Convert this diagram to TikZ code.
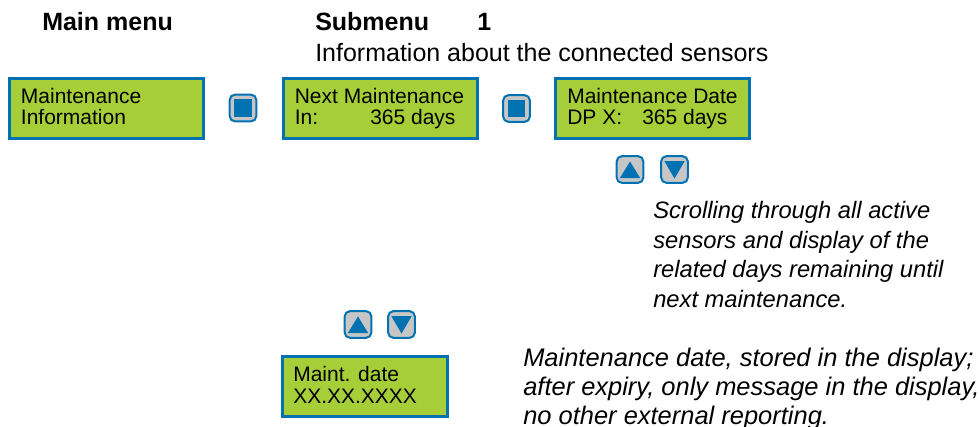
\documentclass[tikz,border=0pt]{standalone}
\usepackage{fontspec}
\setmainfont{Liberation Sans}
\definecolor{lcdblue}{RGB}{0,114,178}
\definecolor{lcdgreen}{RGB}{166,206,57}
\definecolor{keygrey}{RGB}{198,198,198}
\begin{document}
\begin{tikzpicture}[x=0.75pt,y=-0.75pt,
  lcd/.style={draw=lcdblue, fill=lcdgreen, line width=2.25pt, inner sep=0pt,
    minimum width=145.5pt, minimum height=45pt},
  lcdtext/.style={anchor=base west, inner sep=0pt, font=\fontsize{15.75pt}{18pt}\selectfont},
  head/.style={anchor=base west, inner sep=0pt, font=\fontsize{18.75pt}{22pt}\selectfont\bfseries},
  subhead/.style={anchor=base west, inner sep=0pt, font=\fontsize{18.75pt}{22pt}\selectfont},
  note/.style={anchor=base west, inner sep=0pt, font=\fontsize{17.8pt}{22pt}\selectfont\itshape},
  bignote/.style={anchor=base west, inner sep=0pt, font=\fontsize{19.1pt}{22pt}\selectfont\itshape},
  key/.style={draw=lcdblue, fill=keygrey, line width=1.5pt, rounded corners=3.75pt,
    minimum size=19.9pt, inner sep=0pt},
  enterkey/.style={key, path picture={
    \fill[lcdblue, sharp corners] ([shift={(-6.4pt,-6.4pt)}]path picture bounding box.center)
      rectangle ([shift={(6.4pt,6.4pt)}]path picture bounding box.center);}},
  upkey/.style={key, path picture={
    \fill[lcdblue, sharp corners] ([shift={(0pt,6pt)}]path picture bounding box.center)
      -- ([shift={(-7.6pt,-6.4pt)}]path picture bounding box.center)
      -- ([shift={(7.6pt,-6.4pt)}]path picture bounding box.center) -- cycle;}},
  downkey/.style={key, path picture={
    \fill[lcdblue, sharp corners] ([shift={(0pt,-6.8pt)}]path picture bounding box.center)
      -- ([shift={(-7.6pt,6.2pt)}]path picture bounding box.center)
      -- ([shift={(7.6pt,6.2pt)}]path picture bounding box.center) -- cycle;}}
]
\useasboundingbox (0,0) rectangle (978,427);

% column headings
\node[head] (hmain) at (42,31) {Main menu};
\node[head] (hsub) at (315,31) {Submenu};
\node[head] (hnum) at (477,31) {1};
\node[subhead] (hinfo) at (315,62) {Information about the connected sensors};

% display boxes
\node[lcd] (b1) at (106.5,108.5) {};
\node[lcd] (b2) at (380,108.5) {};
\node[lcd] (b3) at (652.5,108.5) {};
\node[lcd, minimum width=123.75pt] (b4) at (365,386.5) {};

\node[lcdtext] (b1a) at (20.7,103.3) {Maintenance};
\node[lcdtext] (b1b) at (20.7,125) {Information};
\node[lcdtext] (b2a) at (294.5,103.3) {Next Maintenance};
\node[lcdtext] (b2b) at (294.5,125) {In:};
\node[lcdtext] (b2c) at (370,125) {365 days};
\node[lcdtext] (b3a) at (567,103.3) {Maintenance Date};
\node[lcdtext] (b3b) at (567,125) {DP X:};
\node[lcdtext] (b3c) at (642,125) {365 days};
\node[lcdtext] (b4a) at (293,381.5) {Maint. date};
\node[lcdtext] (b4b) at (293,403) {XX.XX.XXXX};

% keys
\node[enterkey] (k1) at (243,108) {};
\node[enterkey] (k2) at (516.5,108.5) {};
\node[upkey] (u1) at (630,169.5) {};
\node[downkey] (d1) at (674.5,169.5) {};
\node[upkey] (u2) at (358,324.5) {};
\node[downkey] (d2) at (401.5,324.5) {};

% explanations
\node[note] (n1a) at (653,218.5) {Scrolling through all active};
\node[note] (n1b) at (653,248.1) {sensors and display of the};
\node[note] (n1c) at (653,277.7) {related days remaining until};
\node[note] (n1d) at (653,307.3) {next maintenance.};

\node[bignote] (n2a) at (523,367) {Maintenance date, stored in the display;};
\node[bignote] (n2b) at (523,396) {after expiry, only message in the display,};
\node[bignote] (n2c) at (523,425) {no other external reporting.};
\end{tikzpicture}
\end{document}
